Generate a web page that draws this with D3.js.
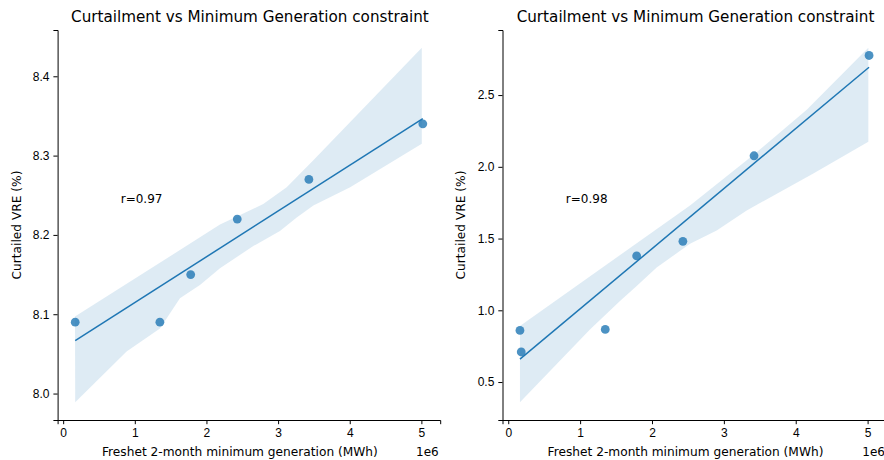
<!DOCTYPE html>
<html>
<head>
<meta charset="utf-8">
<script src="https://cdn.jsdelivr.net/npm/d3@7"></script>
<style>
  body { margin: 0; background: #fff; }
  svg { display: block; font-family: "DejaVu Sans", sans-serif; }
  .tick text { font-size: 12px; fill: #000; }
  .tick line, .domain { stroke: #000; stroke-width: 1px; }
</style>
</head>
<body>
<div id="chart"></div>
<script>
// Left panel: minimum generation (MWh) vs curtailed VRE (%)
const genLeft = [168000, 1350000, 1780000, 2430000, 3430000, 5020000];
const curtLeft = [8.09, 8.09, 8.15, 8.22, 8.27, 8.34];
// bootstrap confidence band
const bandLeftUpperX = [165000, 2189000, 2793000, 3120000, 3492000, 5006000];
const bandLeftUpperY = [8.097, 8.213, 8.239, 8.260, 8.294, 8.436];
const bandLeftLowerX = [168000, 885000, 1351000, 1630000, 1909000, 2189000, 2654000, 3026000, 3260000, 3492000, 4006000, 5006000];
const bandLeftLowerY = [7.989, 8.053, 8.082, 8.120, 8.137, 8.158, 8.186, 8.205, 8.222, 8.237, 8.260, 8.315];

// Right panel
const genRight = [163000, 181000, 1350000, 1787000, 2430000, 3420000, 5020000];
const curtRight = [0.86, 0.71, 0.867, 1.379, 1.481, 2.077, 2.776];
const bandRightUpperX = [163000, 2529000, 3410000, 4153000, 5010000];
const bandRightUpperY = [0.89, 1.731, 2.082, 2.398, 2.830];
const bandRightLowerX = [163000, 1137000, 1555000, 1787000, 2065000, 2529000, 2900000, 3318000, 4245000, 5010000];
const bandRightLowerY = [0.359, 0.867, 1.065, 1.170, 1.299, 1.463, 1.556, 1.696, 1.954, 2.175];

const titles = ['Curtailment vs Minimum Generation constraint', 'Curtailment vs Minimum Generation constraint'];
const rLabels = ['r=0.97', 'r=0.98'];
const xLabel = 'Freshet 2-month minimum generation (MWh)';
const yLabel = 'Curtailed VRE (%)';

const W = 884, H = 460;
const blue = '#1f77b4';

const svg = d3.select('#chart').append('svg')
  .attr('width', W)
  .attr('height', H);

function padded(lo, hi) {
  const m = (hi - lo) * 0.05;
  return [lo - m, hi + m];
}

function drawPanel(opts) {
  const { left, top, width, height } = opts;
  const g = svg.append('g').attr('transform', `translate(${left},${top})`);

  const allX = opts.xs.concat(opts.upX, opts.loX);
  const allY = opts.ys.concat(opts.upY, opts.loY);

  const x = d3.scaleLinear()
    .domain(padded(d3.min(allX), d3.max(allX)))
    .range([0, width]);
  const y = d3.scaleLinear()
    .domain(padded(d3.min(allY), d3.max(allY)))
    .range([height, 0]);

  // confidence band as a closed polygon
  const upper = opts.upX.map((v, i) => [v, opts.upY[i]]);
  const lower = opts.loX.map((v, i) => [v, opts.loY[i]]).reverse();
  g.append('path')
    .attr('d', d3.line().x((d) => x(d[0])).y((d) => y(d[1]))(upper.concat(lower)) + 'Z')
    .attr('fill', blue)
    .attr('fill-opacity', 0.15)
    .attr('stroke', 'none');

  // least squares fit
  const mx = d3.mean(opts.xs), my = d3.mean(opts.ys);
  let sxy = 0, sxx = 0;
  opts.xs.forEach((v, i) => {
    sxy += (v - mx) * (opts.ys[i] - my);
    sxx += (v - mx) * (v - mx);
  });
  const slope = sxy / sxx;
  const x0 = d3.min(opts.xs), x1 = d3.max(opts.xs);
  g.append('line')
    .attr('x1', x(x0))
    .attr('x2', x(x1))
    .attr('y1', y(my + slope * (x0 - mx)))
    .attr('y2', y(my + slope * (x1 - mx)))
    .attr('stroke', blue)
    .attr('stroke-width', 1.5);

  // points
  g.selectAll('circle.pt')
    .data(opts.xs.map((v, i) => [v, opts.ys[i]]))
    .enter()
    .append('circle')
    .attr('class', 'pt')
    .attr('cx', (d) => x(d[0]))
    .attr('cy', (d) => y(d[1]))
    .attr('r', 4.4)
    .attr('fill', blue)
    .attr('fill-opacity', 0.8);

  // axes (top/right spines removed)
  g.append('g')
    .attr('transform', `translate(0,${height})`)
    .call(d3.axisBottom(x).ticks(6).tickSizeOuter(0).tickSize(4.2).tickPadding(4)
      .tickFormat((t) => d3.format('d')(t / 1e6)));
  g.append('g')
    .call(d3.axisLeft(y).ticks(5).tickSizeOuter(0).tickSize(4.2).tickPadding(4)
      .tickFormat(d3.format('.1f')));

  // title
  g.append('text')
    .attr('x', width / 2 + 1)
    .attr('y', -8)
    .attr('text-anchor', 'middle')
    .attr('font-size', '15.2px')
    .text(opts.title);

  // axis labels
  g.append('text')
    .attr('x', width / 2 - 9)
    .attr('y', height + 36)
    .attr('text-anchor', 'middle')
    .attr('font-size', '12.2px')
    .text(xLabel);
  g.append('text')
    .attr('x', x(5e6) + 6)
    .attr('y', height + 36)
    .attr('text-anchor', 'middle')
    .attr('font-size', '12px')
    .text('1e6');
  g.append('text')
    .attr('transform', `translate(${-opts.yLabelOff},${height / 2}) rotate(-90)`)
    .attr('text-anchor', 'middle')
    .attr('font-size', '12.2px')
    .text(yLabel);

  // correlation annotation
  g.append('text')
    .attr('x', width * 0.165)
    .attr('y', height * 0.443)
    .attr('font-size', '12px')
    .text(opts.rLabel);
}

drawPanel({
  left: 57.6, top: 30, width: 382.6, height: 390,
  xs: genLeft, ys: curtLeft,
  upX: bandLeftUpperX, upY: bandLeftUpperY,
  loX: bandLeftLowerX, loY: bandLeftLowerY,
  title: titles[0], rLabel: rLabels[0], yLabelOff: 37
});

drawPanel({
  left: 502.5, top: 30, width: 384, height: 390,
  xs: genRight, ys: curtRight,
  upX: bandRightUpperX, upY: bandRightUpperY,
  loX: bandRightLowerX, loY: bandRightLowerY,
  title: titles[1], rLabel: rLabels[1], yLabelOff: 38
});
</script>
</body>
</html>
